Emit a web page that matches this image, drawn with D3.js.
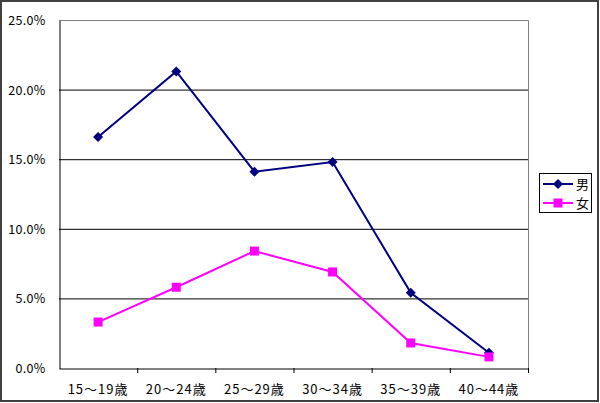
<!DOCTYPE html>
<html><head><meta charset="utf-8">
<script src="https://cdn.jsdelivr.net/npm/d3@7"></script>
<style>body{margin:0;background:#fff}svg{display:block}text{font-family:"Noto Sans CJK JP","DejaVu Sans",sans-serif;font-size:12px;fill:#000}</style>
</head><body><svg id="c" width="600" height="403"></svg>
<script>
const categories = ["15～19歳","20～24歳","25～29歳","30～34歳","35～39歳","40～44歳"];
const male = [16.6, 21.3, 14.1, 14.8, 5.4, 1.1];
const female = [3.3, 5.8, 8.4, 6.9, 1.8, 0.8];
const yTicks = [0, 5, 10, 15, 20, 25];
const seriesNames = ["男", "女"];
const colors = ["#000080", "#FF00FF"];

const svg = d3.select("#c");
const L = 59, R = 528, T = 20, B = 368;
svg.append("rect").attr("x",1).attr("y",1).attr("width",597).attr("height",400)
  .attr("fill","#fff").attr("stroke","#404040").attr("stroke-width",2);

const x = d3.scaleBand().domain(categories).range([L, R]);
const y = d3.scaleLinear().domain([0, 25]).range([B, T]);

// gridlines
svg.append("g").selectAll("line").data(yTicks.filter(d => d > 0 && d < 25)).join("line")
  .attr("x1", L).attr("x2", R).attr("y1", d => y(d)+0.5).attr("y2", d => y(d)+0.5)
  .attr("stroke", "#000").attr("stroke-width", 1);
// plot border top/right
svg.append("path").attr("d", `M${L},${T+0.5}H${R+0.5}V${B}`).attr("fill","none").attr("stroke","#808080").attr("stroke-width",1);

// y axis
const yAxis = d3.axisLeft(y).tickValues(yTicks).tickFormat(d => d.toFixed(1) + "%").tickSize(0).tickPadding(14);
const gy = svg.append("g").attr("transform", `translate(${L+0.5},0.5)`).call(yAxis);
gy.select(".domain").attr("stroke","#000");
gy.selectAll("text").style("font-size","12.5px").style("letter-spacing","0.3px").attr("fill","#000");

// x axis
const xAxis = d3.axisBottom(x).tickSize(0).tickPadding(16);
const gx = svg.append("g").attr("transform", `translate(0,${B+0.5})`).call(xAxis);
gx.select(".domain").attr("stroke","#000");
gx.selectAll("text").style("font-size","13px").style("letter-spacing","1px").attr("fill","#000");
// tick marks at category boundaries
svg.append("g").selectAll("line").data(categories.slice(1).concat(["__end"])).join("line")
  .attr("x1", d => d === "__end" ? R+0.5 : x(d)+0.5)
  .attr("x2", d => d === "__end" ? R+0.5 : x(d)+0.5)
  .attr("y1", B).attr("y2", B+5).attr("stroke","#000");

const cx = d => x(d) + x.bandwidth()/2;
const line = d3.line().x(d => cx(d.c)).y(d => y(d.v));
const data = [male, female].map(arr => arr.map((v, i) => ({c: categories[i], v})));

data.forEach((ser, si) => {
  svg.append("path").datum(ser).attr("d", line).attr("fill","none")
    .attr("stroke", colors[si]).attr("stroke-width", 2);
});
// markers
const diamond = (px, py, s) => `M${px},${py-s}L${px+s},${py}L${px},${py+s}L${px-s},${py}Z`;
svg.append("g").selectAll("path").data(data[0]).join("path")
  .attr("d", d => diamond(cx(d.c), y(d.v), 5)).attr("fill", colors[0]);
svg.append("g").selectAll("rect").data(data[1]).join("rect")
  .attr("x", d => cx(d.c)-4.5).attr("y", d => y(d.v)-4.5).attr("width",9).attr("height",9)
  .attr("fill", colors[1]);

// legend
const lg = svg.append("g");
lg.append("rect").attr("x",539.5).attr("y",173.5).attr("width",52).attr("height",39)
  .attr("fill","#fff").attr("stroke","#000");
seriesNames.forEach((n, i) => {
  const ly = 184 + i*19;
  lg.append("line").attr("x1",543).attr("x2",573).attr("y1",ly).attr("y2",ly).attr("stroke",colors[i]).attr("stroke-width",2);
  if (i === 0) lg.append("path").attr("d", diamond(558, ly, 5)).attr("fill", colors[0]);
  else lg.append("rect").attr("x",553.5).attr("y",ly-4.5).attr("width",9).attr("height",9).attr("fill",colors[1]);
  lg.append("text").attr("x",576).attr("y",ly+4.5).text(n).style("font-size","13px");
});
</script></body></html>
